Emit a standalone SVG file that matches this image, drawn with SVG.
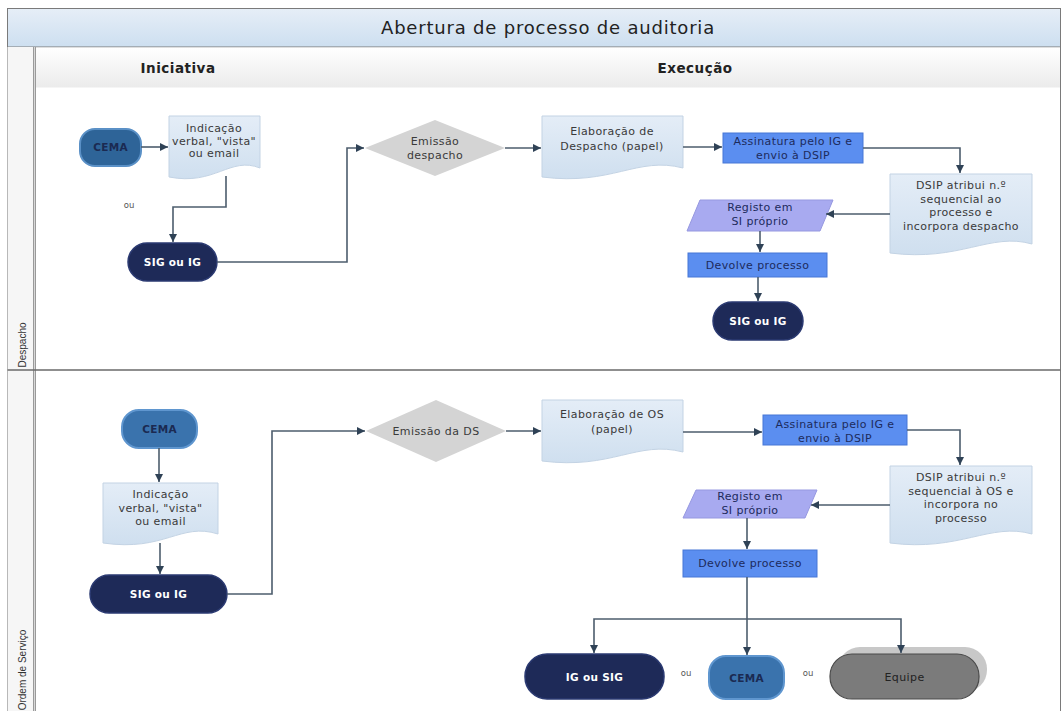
<svg xmlns="http://www.w3.org/2000/svg" width="1064" height="711" viewBox="0 0 1064 711">
  <defs>
    <linearGradient id="gTitle" x1="0" y1="0" x2="0" y2="1">
      <stop offset="0" stop-color="#e6eef7"/>
      <stop offset="1" stop-color="#cddff0"/>
    </linearGradient>
    <linearGradient id="gHead" x1="0" y1="0" x2="0" y2="1">
      <stop offset="0" stop-color="#ffffff"/>
      <stop offset="1" stop-color="#ebebeb"/>
    </linearGradient>
    <linearGradient id="gDoc" x1="0" y1="0" x2="0" y2="1">
      <stop offset="0" stop-color="#e4edf7"/>
      <stop offset="1" stop-color="#cfdfef"/>
    </linearGradient>
    <marker id="arr" viewBox="0 0 10 10" refX="10" refY="5" markerWidth="9" markerHeight="8" markerUnits="userSpaceOnUse" orient="auto">
      <path d="M0,0 L10,5 L0,10 z" fill="#2f4256"/>
    </marker>
    <style>
      .lbl { font-family: "DejaVu Sans", "Liberation Sans", sans-serif; font-size: 11px; letter-spacing: 0.4px; fill: #3a3a3a; text-anchor: middle; }
      .dark { fill: #1d2b5c; }
      .term { font-family: "DejaVu Sans", "Liberation Sans", sans-serif; font-size: 10.5px; letter-spacing: 0.3px; font-weight: bold; text-anchor: middle; }
      .white { fill: #ffffff; }
      .navy { fill: #1b2a52; }
      .doc { fill: url(#gDoc); stroke: #c3d3e4; stroke-width: 1; }
      .dia { fill: #d4d4d4; }
      .proc { fill: #5b8ef0; stroke: #4777d6; stroke-width: 1; }
      .para { fill: #a8aaf0; stroke: #9698e0; stroke-width: 1; }
      .navyT { fill: #1e2a58; stroke: #2b3a72; stroke-width: 1.5; }
      .cema1 { fill: #2e6498; stroke: #5a90c6; stroke-width: 2; }
      .cema2 { fill: #3a73ad; stroke: #5f96cf; stroke-width: 2; }
      .conn { fill: none; stroke: #4d5d6d; stroke-width: 1.6; }
      .arrow { marker-end: url(#arr); }
      .ou { font-family: "DejaVu Sans", "Liberation Sans", sans-serif; font-size: 8.5px; fill: #555; text-anchor: middle; }
      .lane { font-family: "Liberation Sans", "DejaVu Sans", sans-serif; font-size: 10px; fill: #333; }
      .head { font-family: "DejaVu Sans", "Liberation Sans", sans-serif; font-size: 13.5px; letter-spacing: 0.5px; font-weight: bold; fill: #222; text-anchor: middle; }
    </style>
  </defs>

  <!-- pool frame -->
  <g id="pool">
    <rect x="7.5" y="8.5" width="1053" height="710" fill="#ffffff" stroke="#7a7a7a" stroke-width="1"/>
    <rect x="7.5" y="8.5" width="1053" height="38.5" fill="url(#gTitle)" stroke="#7a7a7a" stroke-width="1"/>
    <text x="548" y="34" font-family="DejaVu Sans, Liberation Sans, sans-serif" font-size="18" letter-spacing="0.8" fill="#222" text-anchor="middle">Abertura de processo de auditoria</text>
    <!-- lane title column -->
    <rect x="7.5" y="47" width="27" height="670" fill="#f6f6f6"/>
    <line x1="34.5" y1="47" x2="34.5" y2="711" stroke="#9a9a9a" stroke-width="3"/>
    <line x1="34.5" y1="47" x2="34.5" y2="711" stroke="#d8d8d8" stroke-width="1"/>
    <!-- phase header -->
    <rect x="36" y="47.5" width="1024" height="40" fill="url(#gHead)"/>
    <text class="head" x="178" y="73">Iniciativa</text>
    <text class="head" x="695" y="73">Execução</text>
    <!-- lane separator -->
    <line x1="7.5" y1="370" x2="1060.5" y2="370" stroke="#6a6a6a" stroke-width="1.5"/>
    <text class="lane" transform="translate(25.5,345) rotate(-90)" text-anchor="middle">Despacho</text>
    <text class="lane" transform="translate(25.5,670) rotate(-90)" text-anchor="middle" font-size="9.5">Ordem de Serviço</text>
  </g>

  <!-- Despacho lane -->
  <g id="cema-despacho">
    <rect class="cema1" x="80" y="129" width="61" height="37" rx="15"/>
    <text class="term navy" x="110.5" y="151">CEMA</text>
  </g>
  <g id="indicacao-despacho">
    <path class="doc" d="M169,116 H260 V168 C230,156 215,186 169,177 Z"/>
    <text class="lbl" x="214" y="131.5">Indicação</text>
    <text class="lbl" x="214" y="144.5">verbal, "vista"</text>
    <text class="lbl" x="214" y="157">ou email</text>
  </g>
  <text class="ou" x="129" y="208">ou</text>
  <g id="sig-despacho">
    <rect class="navyT" x="128" y="243" width="89" height="38" rx="19"/>
    <text class="term white" x="172.5" y="266">SIG ou IG</text>
  </g>
  <g id="emissao-despacho">
    <polygon class="dia" points="365,148 435,120 505,148 435,176"/>
    <text class="lbl" x="435" y="145">Emissão</text>
    <text class="lbl" x="435" y="158.5">despacho</text>
  </g>
  <g id="elaboracao-despacho">
    <path class="doc" d="M542,116 H683 V168 C637,156 612,186 542,177 Z"/>
    <text class="lbl" x="612" y="134.5">Elaboração de</text>
    <text class="lbl" x="612" y="150">Despacho (papel)</text>
  </g>
  <g id="assinatura-despacho">
    <rect class="proc" x="723" y="133" width="140" height="30"/>
    <text class="lbl dark" x="793" y="145">Assinatura pelo IG e</text>
    <text class="lbl dark" x="793" y="158.5">envio à DSIP</text>
  </g>
  <g id="dsip-despacho">
    <path class="doc" d="M890,174 H1032 V244 C990,232 960,262 890,253 Z"/>
    <text class="lbl" x="961" y="189">DSIP atribui n.º</text>
    <text class="lbl" x="961" y="202.5">sequencial ao</text>
    <text class="lbl" x="961" y="216">processo e</text>
    <text class="lbl" x="961" y="229.5">incorpora despacho</text>
  </g>
  <g id="registo-despacho">
    <polygon class="para" points="700,200 833,200 820,231 687,231"/>
    <text class="lbl dark" x="760" y="211">Registo em</text>
    <text class="lbl dark" x="760" y="225">SI próprio</text>
  </g>
  <g id="devolve-despacho">
    <rect class="proc" x="688" y="253" width="139" height="24"/>
    <text class="lbl dark" x="757.5" y="269">Devolve processo</text>
  </g>
  <g id="sig-fim-despacho">
    <rect class="navyT" x="713" y="302" width="90" height="38" rx="19"/>
    <text class="term white" x="758" y="325">SIG ou IG</text>
  </g>

  <!-- Ordem de Servico lane -->
  <g id="cema-os">
    <rect class="cema2" x="122" y="410" width="75" height="38" rx="17"/>
    <text class="term navy" x="159.5" y="433">CEMA</text>
  </g>
  <g id="indicacao-os">
    <path class="doc" d="M103,483 H218 V534 C180,522 165,552 103,543 Z"/>
    <text class="lbl" x="160.5" y="498">Indicação</text>
    <text class="lbl" x="160.5" y="511.5">verbal, "vista"</text>
    <text class="lbl" x="160.5" y="525">ou email</text>
  </g>
  <g id="sig-os">
    <rect class="navyT" x="90" y="575" width="137" height="38" rx="19"/>
    <text class="term white" x="158.5" y="598">SIG ou IG</text>
  </g>
  <g id="emissao-os">
    <polygon class="dia" points="366,431 436,400 506,431 436,462"/>
    <text class="lbl" x="436" y="435">Emissão da DS</text>
  </g>
  <g id="elaboracao-os">
    <path class="doc" d="M542,400 H683 V452 C637,440 612,470 542,461 Z"/>
    <text class="lbl" x="612" y="418">Elaboração de OS</text>
    <text class="lbl" x="612" y="432.5">(papel)</text>
  </g>
  <g id="assinatura-os">
    <rect class="proc" x="763" y="415" width="144" height="30"/>
    <text class="lbl dark" x="835" y="427.5">Assinatura pelo IG e</text>
    <text class="lbl dark" x="835" y="441.5">envio à DSIP</text>
  </g>
  <g id="dsip-os">
    <path class="doc" d="M890,466 H1032 V534 C990,522 960,552 890,543 Z"/>
    <text class="lbl" x="961" y="481">DSIP atribui n.º</text>
    <text class="lbl" x="961" y="494.5">sequencial à OS e</text>
    <text class="lbl" x="961" y="508">incorpora no</text>
    <text class="lbl" x="961" y="521.5">processo</text>
  </g>
  <g id="registo-os">
    <polygon class="para" points="696,490 817,490 805,518 683,518"/>
    <text class="lbl dark" x="750" y="500">Registo em</text>
    <text class="lbl dark" x="750" y="514">SI próprio</text>
  </g>
  <g id="devolve-os">
    <rect class="proc" x="683" y="550" width="134" height="27"/>
    <text class="lbl dark" x="750" y="567">Devolve processo</text>
  </g>
  <g id="ig-sig-os">
    <rect class="navyT" x="525" y="654" width="139" height="45" rx="22"/>
    <text class="term white" x="594.5" y="680.5">IG ou SIG</text>
  </g>
  <text class="ou" x="686" y="676">ou</text>
  <g id="cema-fim-os">
    <rect class="cema2" x="709" y="656" width="75" height="43" rx="17"/>
    <text class="term navy" x="746.5" y="681.5">CEMA</text>
  </g>
  <text class="ou" x="808" y="676">ou</text>
  <g id="equipe-os">
    <rect x="838" y="647" width="149" height="45" rx="22" fill="#c8c8c8"/>
    <rect x="830" y="654" width="149" height="45" rx="22" fill="#7b7b7b" stroke="#4a4a4a" stroke-width="1.2"/>
    <text class="lbl" x="904.5" y="680.5" style="fill:#222">Equipe</text>
  </g>

  <!-- connectors -->
  <g id="connectors">
    <path class="conn arrow" d="M141,147 H168"/>
    <path class="conn arrow" d="M226,176 V207 H173 V242"/>
    <path class="conn arrow" d="M217,262 H347 V148 H364"/>
    <path class="conn arrow" d="M505,148 H541"/>
    <path class="conn arrow" d="M683,147 H722"/>
    <path class="conn arrow" d="M863,148 H960 V173"/>
    <path class="conn arrow" d="M890,214 H826"/>
    <path class="conn arrow" d="M760,231 V252"/>
    <path class="conn arrow" d="M758,277 V301"/>

    <path class="conn arrow" d="M159,448 V482"/>
    <path class="conn arrow" d="M160,543 V574"/>
    <path class="conn arrow" d="M227,594 H272 V431 H365"/>
    <path class="conn arrow" d="M506,431 H541"/>
    <path class="conn arrow" d="M683,432 H762"/>
    <path class="conn arrow" d="M907,430 H960 V465"/>
    <path class="conn arrow" d="M890,505 H811"/>
    <path class="conn arrow" d="M747,518 V549"/>
    <path class="conn arrow" d="M747,577 V655"/>
    <path class="conn arrow" d="M747,619 H594 V653"/>
    <path class="conn arrow" d="M747,619 H901 V653"/>
  </g>
</svg>
